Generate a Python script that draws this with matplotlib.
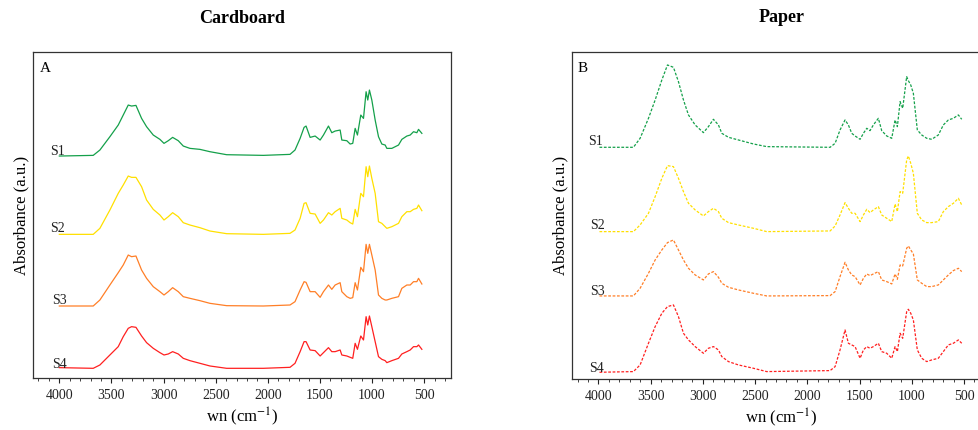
import matplotlib
matplotlib.use("Agg")
import matplotlib.pyplot as plt
from matplotlib.ticker import MultipleLocator

plt.rcParams['font.family'] = ['Liberation Serif', 'DejaVu Serif']
plt.rcParams['mathtext.fontset'] = 'stix'

# ---------------- data ----------------
sample_labels = ["S1", "S2", "S3", "S4"]
colors = ["#14a04a", "#ffe000", "#ff7f27", "#ff2020"]
x_ticks = [4000, 3500, 3000, 2500, 2000, 1500, 1000, 500]

# Cardboard (panel A) wavenumbers (cm-1)
wn_cardboard = [4000, 3675, 3611, 3515, 3435, 3387, 3339, 3307, 3265, 3211,
                3163, 3099, 3035, 2996, 2955, 2913, 2859, 2811, 2747, 2651,
                2555, 2395, 2043, 1787, 1739, 1690, 1652, 1633, 1594, 1546,
                1498, 1466, 1418, 1386, 1354, 1306, 1290, 1242, 1210, 1185,
                1162, 1140, 1108, 1082, 1057, 1041, 1025, 1002, 970, 938,
                906, 874, 858, 810, 746, 714, 666, 634, 602, 570, 554, 522]

cardboard_s1 = [0, 2, 18, 58, 93, 123, 153, 150, 152, 113, 88, 63, 50, 38, 46, 56, 46, 30, 23, 20,
                13, 4, 2, 5, 18, 53, 86, 90, 56, 60, 48, 63, 90, 70, 75, 78, 48, 46, 36, 38,
                83, 63, 123, 113, 193, 168, 198, 168, 108, 58, 36, 33, 23, 23, 33, 50, 60, 63,
                73, 70, 80, 68]
cardboard_s2 = [0, 0, 18, 73, 123, 148, 175, 171, 171, 143, 103, 75, 58, 43, 53, 65, 53, 35, 28, 20,
                10, 2, 0, 3, 13, 48, 93, 95, 63, 61, 33, 43, 65, 58, 68, 78, 48, 43, 35, 31,
                75, 53, 123, 113, 203, 173, 205, 168, 123, 38, 33, 23, 18, 23, 33, 53, 68, 68,
                75, 78, 88, 71]
cardboard_s3 = [0, 0, 18, 63, 100, 123, 153, 148, 150, 108, 83, 58, 43, 33, 43, 55, 43, 28, 23, 16,
                8, 1, 0, 3, 13, 48, 73, 71, 43, 43, 26, 43, 63, 50, 63, 70, 43, 28, 23, 25,
                70, 48, 116, 103, 185, 158, 185, 153, 108, 33, 23, 18, 18, 23, 28, 53, 63, 63,
                73, 73, 83, 66]
cardboard_s4 = [2, 0, 10, 40, 65, 95, 120, 125, 123, 97, 77, 60, 47, 40, 43, 50, 43, 30, 23, 15,
                7, 0, 0, 3, 15, 50, 80, 80, 55, 53, 37, 47, 62, 50, 50, 55, 40, 37, 33, 30,
                75, 57, 97, 85, 155, 130, 157, 125, 80, 35, 27, 23, 17, 23, 30, 43, 50, 55,
                65, 65, 70, 57]
cardboard_offsets = [667, 432, 217, 30]

# Paper (panel B) wavenumbers (cm-1)
wn_paper = [3990, 3665, 3601, 3521, 3457, 3393, 3339, 3282, 3234, 3186,
            3138, 3074, 2995, 2947, 2899, 2851, 2819, 2755, 2660, 2516,
            2389, 1782, 1734, 1687, 1639, 1607, 1575, 1543, 1495, 1463,
            1431, 1400, 1368, 1320, 1288, 1240, 1192, 1160, 1138, 1112,
            1087, 1049, 1033, 1010, 985, 947, 905, 857, 809, 746,
            698, 650, 602, 554, 522]

paper_s1 = [0, 0, 27, 87, 142, 202, 247, 240, 197, 142, 97, 67, 44, 62, 84, 67, 42, 30, 22, 10,
            2, 0, 12, 52, 82, 67, 42, 34, 24, 42, 57, 50, 67, 87, 50, 34, 27, 82, 62, 137,
            117, 212, 200, 187, 162, 52, 37, 27, 24, 37, 67, 82, 87, 97, 84]
paper_s2 = [0, 0, 20, 55, 105, 160, 198, 195, 160, 120, 85, 65, 47, 60, 70, 60, 40, 27, 20, 10,
            0, 2, 17, 50, 87, 70, 55, 55, 30, 50, 67, 57, 65, 75, 50, 40, 30, 83, 60, 120,
            115, 215, 227, 205, 175, 55, 35, 27, 27, 30, 60, 75, 85, 100, 80]
paper_s3 = [0, 0, 23, 68, 108, 138, 160, 168, 138, 108, 83, 63, 48, 66, 73, 56, 38, 26, 18, 8,
            0, 1, 13, 58, 101, 78, 63, 58, 33, 53, 66, 61, 66, 73, 48, 43, 36, 66, 50, 93,
            90, 143, 150, 138, 126, 48, 38, 28, 28, 33, 48, 63, 76, 83, 73]
paper_s4 = [0, 2, 22, 87, 137, 177, 197, 202, 167, 117, 97, 77, 57, 72, 77, 67, 47, 32, 22, 12,
            2, 5, 17, 67, 127, 87, 82, 77, 42, 67, 77, 72, 77, 87, 62, 57, 42, 77, 62, 117,
            102, 182, 189, 177, 157, 67, 42, 32, 37, 42, 62, 82, 87, 97, 87]
paper_offsets = [696, 443, 250, 21]

# label anchor positions (wn, absorbance) for S-labels
cardboard_label_pos = [(4021, 682), (4021, 451), (4002, 235), (4000, 42)]
paper_label_pos = [(4028, 714), (4012, 461), (4012, 262), (4015, 33)]

# ---------------- figure ----------------
fig = plt.figure(figsize=(9.79, 4.30), dpi=100)
ax1 = fig.add_axes([0.0340, 0.1202, 0.4264, 0.7595])
ax2 = fig.add_axes([0.5846, 0.1180, 0.4273, 0.7619])

panels = [
    (ax1, "Cardboard", "A", wn_cardboard, [cardboard_s1, cardboard_s2, cardboard_s3, cardboard_s4],
     cardboard_offsets, cardboard_label_pos, '-', 980, 0.0297),
    (ax2, "Paper", "B", wn_paper, [paper_s1, paper_s2, paper_s3, paper_s4],
     paper_offsets, paper_label_pos, (0, (2.2, 1.3)), 983, 0.0244),
]

for ax, title, letter, wn, series, offs, lpos, ls, ytop, lx in panels:
    for vals, off, col, lab, (lw_, ly) in zip(series, offs, colors, sample_labels, lpos):
        ax.plot(wn, [v + off for v in vals], color=col, lw=0.9, linestyle=ls)
        ax.text(lw_, ly, lab, fontsize=10, ha='center', va='center', color='#222222')
    ax.set_xlim(4250, 245)
    ax.set_ylim(0, ytop)
    ax.set_xticks(x_ticks)
    ax.xaxis.set_minor_locator(MultipleLocator(100))
    ax.tick_params(axis='x', which='major', direction='out', length=3.5, width=0.8,
                   labelsize=10, pad=4, colors='#222222')
    ax.tick_params(axis='x', which='minor', direction='out', length=2, width=0.6, colors='#222222')
    ax.set_yticks([])
    for sp in ax.spines.values():
        sp.set_color('#333333')
        sp.set_linewidth(0.9)
    ax.set_title(title, fontsize=13, fontweight='bold', pad=21)
    ax.set_xlabel('wn (cm$^{-1}$)', fontsize=12, labelpad=3)
    ax.set_ylabel('Absorbance (a.u.)', fontsize=12, labelpad=3)
    ax.text(lx, 0.949, letter, transform=ax.transAxes, fontsize=11, ha='center', va='center')

fig.savefig("out.png", dpi=100)
